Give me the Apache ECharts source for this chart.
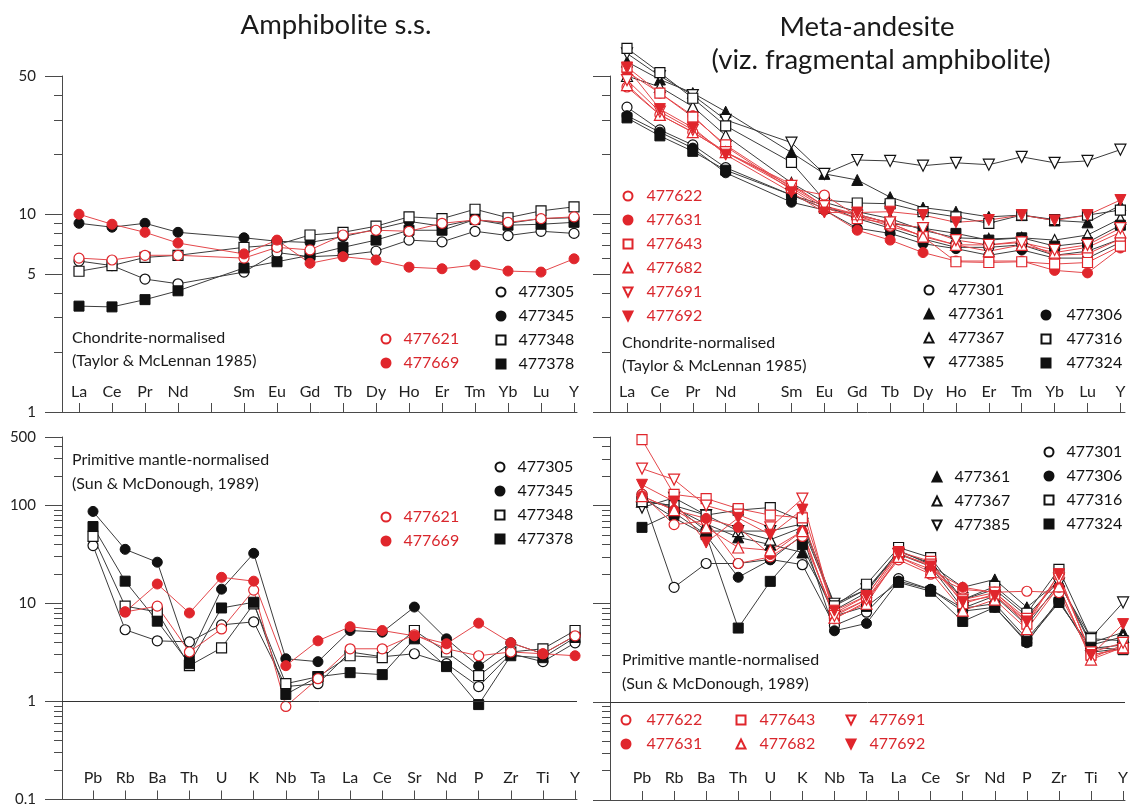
<!DOCTYPE html>
<html><head><meta charset="utf-8">
<script src="https://cdn.jsdelivr.net/npm/echarts@6/dist/echarts.min.js"></script>
<style>html,body{margin:0;padding:0;background:#fff}#c{width:1132px;height:807px}</style>
</head><body><div id="c"></div><script>
// ---------- categories ----------
const reeCats = ['La','Ce','Pr','Nd','','Sm','Eu','Gd','Tb','Dy','Ho','Er','Tm','Yb','Lu','Y'];
const spiderCats = ['Pb','Rb','Ba','Th','U','K','Nb','Ta','La','Ce','Sr','Nd','P','Zr','Ti','Y'];
const reeMajorTicks = [1,5,10,50];
const reeMinorTicks = [2,3,4,6,7,8,9,20,30,40];
const pmMajorTicks = [0.1,1,10,100,500];
const pmMinorTicks = [0.2,0.3,0.4,0.5,0.6,0.7,0.8,0.9,2,3,4,5,6,7,8,9,20,30,40,50,60,70,80,90,200,300,400];

// ---------- Amphibolite s.s. : chondrite-normalised REE ----------
const amREE_477305 = [5.8,5.5,4.7,4.45,null,5.1,6.4,6.1,6.2,6.5,7.4,7.25,8.2,7.8,8.2,8.0];
const amREE_477345 = [9.0,8.6,9.0,8.1,null,7.6,7.3,7.2,7.7,8.4,9.2,8.7,9.4,9.0,9.5,9.6];
const amREE_477348 = [5.15,5.5,6.05,6.2,null,6.8,7.0,7.85,8.1,8.7,9.7,9.5,10.6,9.6,10.4,10.9];
const amREE_477378 = [3.43,3.4,3.7,4.1,null,5.35,5.75,6.2,6.8,7.4,8.3,8.3,9.4,8.8,8.9,9.1];
const amREE_477621 = [6.0,5.87,6.2,6.2,null,6.0,6.8,6.6,7.85,8.3,8.2,9.0,9.35,9.1,9.5,9.7];
const amREE_477669 = [10.0,8.9,8.1,7.15,null,6.3,7.4,5.65,6.1,5.87,5.4,5.3,5.54,5.16,5.1,5.95];

// ---------- Meta-andesite : chondrite-normalised REE ----------
const maREE_477301 = [34.8,26.7,22.4,17.2,null,12.5,11.1,9.5,8.5,7.5,6.8,6.8,7.0,6.2,6.5,7.5];
const maREE_477361 = [59,48,41,33,null,20.5,16,14.9,12.2,10.8,10.3,9.7,9.9,9.3,9.1,11.1];
const maREE_477367 = [50,44,35,25,null,14.4,11.5,10.3,9.5,8.3,7.6,7.5,7.6,7.4,7.85,9.5];
const maREE_477385 = [65,50,40,30,null,23,16,18.8,18.6,17.6,18.2,17.8,19.5,18.2,18.6,21.2];
const maREE_477306 = [31.5,26,21.6,16.2,null,11.5,10.5,8.5,8.0,7.1,6.7,6.2,6.6,6.0,6.0,7.2];
const maREE_477316 = [69,52,38.6,28,null,18.3,11.8,11.4,11.3,10.3,9.7,9.0,9.9,9.4,9.9,10.5];
const maREE_477324 = [30.7,24.9,20.8,16.7,null,12.5,10.7,10.0,9.0,8.5,8.0,7.4,7.6,6.9,7.2,8.8];
const maREE_477622 = [44,31.8,26,20.6,null,13.5,12.5,9.8,8.7,7.8,7.0,7.0,7.3,6.2,6.3,7.5];
const maREE_477631 = [52.5,41,31.5,22,null,13.3,10.5,8.3,7.4,6.4,5.8,5.8,5.8,5.2,5.05,6.75];
const maREE_477643 = [55.5,41,31,22.4,null,13.6,10.8,9.5,9.0,7.7,5.75,5.7,5.75,5.6,5.7,6.9];
const maREE_477682 = [45,31.8,26,20.6,null,14.2,11,10,9.0,7.7,7.0,6.5,7.0,6.4,6.8,8.1];
const maREE_477691 = [47.7,33,26.7,20.6,null,13.9,11,9.8,9.1,8.5,7.4,7.0,7.2,6.6,7.0,8.5];
const maREE_477692 = [55,34,27.4,20,null,12.9,10.2,10.2,10.3,9.9,9.1,9.35,9.9,9.3,9.9,11.8];

// ---------- Amphibolite s.s. : primitive-mantle-normalised ----------
const amPM_477305 = [39,5.4,4.16,4.06,6.05,6.5,1.42,1.52,3.2,2.86,3.07,2.43,1.42,3.07,2.55,3.97];
const amPM_477345 = [87,35.7,26.4,2.86,14,32.5,2.73,2.55,5.3,5.1,9.2,4.36,2.3,3.97,3.07,4.68];
const amPM_477348 = [48.5,9.4,8.2,2.32,3.53,9.9,1.52,1.79,2.93,2.8,5.3,3.2,1.84,3.2,3.45,5.3];
const amPM_477378 = [61,16.9,6.6,2.43,9.0,10.3,1.18,1.79,1.97,1.88,4.36,2.27,0.93,2.93,2.8,4.5];
const amPM_477621 = [null,8.2,9.4,3.2,5.5,13.7,0.89,1.71,3.45,3.45,4.8,3.45,2.93,3.2,3.07,4.68];
const amPM_477669 = [null,8.2,15.8,8.0,18.5,16.9,2.32,4.16,5.8,5.3,4.68,3.88,6.3,3.97,3.07,2.93];

// ---------- Meta-andesite : primitive-mantle-normalised ----------
const maPM_477301 = [130,14.7,25.7,25.7,28.3,25,6.0,8.2,18,14,9,10,4.4,10.5,3.5,3.8];
const maPM_477361 = [115,95,65,47.5,40,33.3,8.6,13,35,25,14.7,17.7,9.2,17,4.0,5.1];
const maPM_477367 = [110,100,55,55,45,60,9.5,14,34,26,11,14,7.5,17,3.8,4.6];
const maPM_477385 = [95.5,120,80,55,55,65,10,14,32,24,9,12,6,16,4.5,10.3];
const maPM_477306 = [120,75,50,18.6,28,50,5.3,6.3,17,14,8.4,9.2,4.0,11,3.2,3.5];
const maPM_477316 = [110,100,80,90,95.5,70,9.5,15.8,37.4,29.5,11,15,8,22.4,4.4,4.2];
const maPM_477324 = [60,85,50.5,5.65,16.9,40,7.5,9.4,16.5,13.4,6.6,9.2,4.16,10.3,3.6,3.4];
const maPM_477622 = [130,64,70,25.7,30,48.5,7.8,11,28,20,14,13.1,13.4,13,3.0,3.5];
const maPM_477631 = [125,90,74,60,31.8,55,7,10.5,30,22.4,14.7,13,6.6,14.7,2.8,3.8];
const maPM_477643 = [470,130,118,93,80,75,8.0,12,34,27,10,12.5,6.2,20,3.0,3.5];
const maPM_477682 = [125,90,60,37.4,35,55,7.2,10,30,21,8.5,11,5.5,15,2.7,3.6];
const maPM_477691 = [238,184,100,81,60,118,7.5,11,32,25,11,13,7,18,3.2,4.0];
const maPM_477692 = [163,110,42,75,50.5,91,8.5,12,33,24,10.5,12,6.6,20,3.0,6.2];

// ---------- styling ----------
const FONT = 'Lato';
const BLK = '#111111', BLKLINE = '#3c3c3c', RED = '#e0262c', REDLINE = '#e4474b', AX = '#4a4a4a';
const DOWN = 'path://M0,0L1,0L0.5,1Z';
const STY = {
  oK:{sym:'circle', hollow:true, c:BLK, lc:BLKLINE},
  fK:{sym:'circle', hollow:false, c:BLK, lc:BLKLINE},
  sK:{sym:'rect', hollow:true, c:BLK, lc:BLKLINE},
  SK:{sym:'rect', hollow:false, c:BLK, lc:BLKLINE},
  tK:{sym:'triangle', hollow:true, c:BLK, lc:BLKLINE},
  TK:{sym:'triangle', hollow:false, c:BLK, lc:BLKLINE},
  dK:{sym:DOWN, hollow:true, c:BLK, lc:BLKLINE},
  oR:{sym:'circle', hollow:true, c:RED, lc:REDLINE},
  fR:{sym:'circle', hollow:false, c:RED, lc:REDLINE},
  sR:{sym:'rect', hollow:true, c:RED, lc:REDLINE},
  tR:{sym:'triangle', hollow:true, c:RED, lc:REDLINE},
  dR:{sym:DOWN, hollow:true, c:RED, lc:REDLINE},
  DR:{sym:DOWN, hollow:false, c:RED, lc:REDLINE}
};
const SAMPLE_STYLE = {
  '477305':'oK','477345':'fK','477348':'sK','477378':'SK','477621':'oR','477669':'fR',
  '477301':'oK','477361':'TK','477367':'tK','477385':'dK','477306':'fK','477316':'sK','477324':'SK',
  '477622':'oR','477631':'fR','477643':'sR','477682':'tR','477691':'dR','477692':'DR'
};

function mk(name, vals, g) {
  const s = STY[SAMPLE_STYLE[name]];
  const size = s.sym === 'circle' ? 10 : (s.sym === 'rect' ? 10 : 11);
  return {
    type:'line', name, xAxisIndex:g, yAxisIndex:2*g,
    data: vals.map((v,i)=>[i, v]),
    symbol: s.sym, symbolSize: size, connectNulls:true, clip:false,
    animation:false, silent:true,
    lineStyle:{color:s.lc, width:1},
    itemStyle: s.hollow ? {color:'#fff', borderColor:s.c, borderWidth:1.2} : {color:s.c, borderColor:s.c, borderWidth:1},
    emphasis:{disabled:true}
  };
}

const grids = [
  {left:62, top:76, width:515, height:336},
  {left:610, top:76, width:515, height:336},
  {left:62, top:437, width:515, height:363},
  {left:610, top:437, width:515, height:363}
];
const xr = [[-0.515,15.09],[-0.517,15.14],[-0.965,15.06],[-0.998,15.06]];
const idx = reeCats.map((c,i)=>i);
function xAx(g, cats, margin) {
  return {type:'value', gridIndex:g, min:xr[g][0], max:xr[g][1],
    axisLine:{show:true, onZero:false, lineStyle:{color:AX, width:1}},
    axisTick:{show:true, inside:true, length:9, customValues:idx, lineStyle:{color:AX}},
    axisLabel:{show:true, inside:true, margin:margin, customValues:idx, formatter:v=>cats[Math.round(v)] || '',
      fontFamily:FONT, fontSize:16, color:'#222'},
    splitLine:{show:false}};
}
function yAxPair(g, mn, mx, major, minor, labels) {
  return [
    {type:'log', gridIndex:g, min:mn, max:mx, logBase:10, position:'left',
     axisLine:{show:true, onZero:false, lineStyle:{color:AX, width:1}},
     axisTick:{show:true, inside:false, length:17, customValues:major, lineStyle:{color:AX}},
     axisLabel:{show:labels, margin:26, customValues:major, fontFamily:FONT, fontSize:15, color:'#222',
       formatter:v=>String(+v.toPrecision(3))},
     splitLine:{show:false}},
    {type:'log', gridIndex:g, min:mn, max:mx, logBase:10, position:'left', offset:0,
     axisLine:{show:false, onZero:false},
     axisTick:{show:true, inside:false, length:8, customValues:minor, lineStyle:{color:AX}},
     axisLabel:{show:false}, splitLine:{show:false}}
  ];
}

const series = [];
// TL
series.push(mk('477305', amREE_477305, 0), mk('477345', amREE_477345, 0), mk('477348', amREE_477348, 0),
  mk('477378', amREE_477378, 0), mk('477621', amREE_477621, 0), mk('477669', amREE_477669, 0));
// TR
series.push(mk('477301', maREE_477301, 1), mk('477361', maREE_477361, 1), mk('477367', maREE_477367, 1),
  mk('477385', maREE_477385, 1), mk('477306', maREE_477306, 1), mk('477316', maREE_477316, 1),
  mk('477324', maREE_477324, 1), mk('477622', maREE_477622, 1), mk('477631', maREE_477631, 1),
  mk('477643', maREE_477643, 1), mk('477682', maREE_477682, 1), mk('477691', maREE_477691, 1),
  mk('477692', maREE_477692, 1));
// BL
series.push(mk('477305', amPM_477305, 2), mk('477345', amPM_477345, 2), mk('477348', amPM_477348, 2),
  mk('477378', amPM_477378, 2), mk('477621', amPM_477621, 2), mk('477669', amPM_477669, 2));
// BR
series.push(mk('477301', maPM_477301, 3), mk('477361', maPM_477361, 3), mk('477367', maPM_477367, 3),
  mk('477385', maPM_477385, 3), mk('477306', maPM_477306, 3), mk('477316', maPM_477316, 3),
  mk('477324', maPM_477324, 3), mk('477622', maPM_477622, 3), mk('477631', maPM_477631, 3),
  mk('477643', maPM_477643, 3), mk('477682', maPM_477682, 3), mk('477691', maPM_477691, 3),
  mk('477692', maPM_477692, 3));
// reference line at 1 in the lower panels
const refLine = {silent:true, symbol:'none', label:{show:false}, animation:false,
  lineStyle:{color:'#333', type:'solid', width:1}, data:[{yAxis:1}]};
series.forEach(s=>{ if ((s.xAxisIndex===2 && s.name==='477305') || (s.xAxisIndex===3 && s.name==='477301')) s.markLine = refLine; });

function legIcon(name) {
  return STY[SAMPLE_STYLE[name]].sym;
}
function leg(names, left, top, color, pad) {
  return {orient:'vertical', left, top, padding:0, itemGap:8, itemWidth:9, itemHeight:9,
    selectedMode:false, symbolRotate:0,
    data:names.map(n=>({name:n, icon:legIcon(n)})),
    textStyle:{fontFamily:FONT, fontSize:16, color, padding:[0,0,0,pad || 8]}};
}
const RT = '#d9262c';
const legends = [
  leg(['477305','477345','477348','477378'], 495.5, 284, '#111'),
  leg(['477621','477669'], 380.5, 331, RT),
  leg(['477622','477631','477643','477682','477691','477692'], 622.5, 188, RT, 9),
  leg(['477301','477361','477367','477385'], 923.5, 282, '#111', 10),
  leg(['477306','477316','477324'], 1040.5, 307, '#111', 11),
  leg(['477305','477345','477348','477378'], 494.5, 459, '#111'),
  leg(['477621','477669'], 380.5, 509, RT),
  leg(['477301','477306','477316','477324'], 1043.5, 444, '#111'),
  leg(['477361','477367','477385'], 931.5, 469, '#111'),
  leg(['477622','477631'], 620.5, 712, RT, 11),
  leg(['477643','477682'], 735.5, 712, RT, 9),
  leg(['477691','477692'], 845.5, 712, RT, 9)
];

const titleStyle = (fs, lh) => ({fontFamily:FONT, fontSize:fs, lineHeight:lh, fontWeight:'normal', color:'#1a1a1a'});
const titles = [
  {text:'Amphibolite s.s.', left:336, top:9, textAlign:'center', padding:0, textStyle:titleStyle(27.5,32)},
  {text:'Meta-andesite', left:867, top:11, textAlign:'center', padding:0, textStyle:titleStyle(27.5,32)},
  {text:'(viz. fragmental amphibolite)', left:881, top:44, textAlign:'center', padding:0, textStyle:titleStyle(27.5,32)},
  {text:'Chondrite-normalised\n(Taylor & McLennan 1985)', left:72, top:326, padding:0, textStyle:titleStyle(16,23)},
  {text:'Chondrite-normalised\n(Taylor & McLennan 1985)', left:622, top:331, padding:0, textStyle:titleStyle(16,23)},
  {text:'Primitive mantle-normalised\n(Sun & McDonough, 1989)', left:72, top:448, padding:0, textStyle:titleStyle(16,24)},
  {text:'Primitive mantle-normalised\n(Sun & McDonough, 1989)', left:622, top:648, padding:0, textStyle:titleStyle(16,24)}
];

const option = {
  backgroundColor:'#fff',
  animation:false,
  title:titles,
  legend:legends,
  grid:grids,
  xAxis:[xAx(0, reeCats, 12), xAx(1, reeCats, 12), xAx(2, spiderCats, 14), xAx(3, spiderCats, 14)],
  yAxis:[].concat(
    yAxPair(0, 1, 50, reeMajorTicks, reeMinorTicks, true),
    yAxPair(1, 1, 50, reeMajorTicks, reeMinorTicks, false),
    yAxPair(2, 0.1, 500, pmMajorTicks, pmMinorTicks, true),
    yAxPair(3, 0.1, 500, pmMajorTicks, pmMinorTicks, false)
  ),
  series
};
const chart = echarts.init(document.getElementById('c'), null, {renderer:'canvas'});
chart.setOption(option);
</script></body></html>
